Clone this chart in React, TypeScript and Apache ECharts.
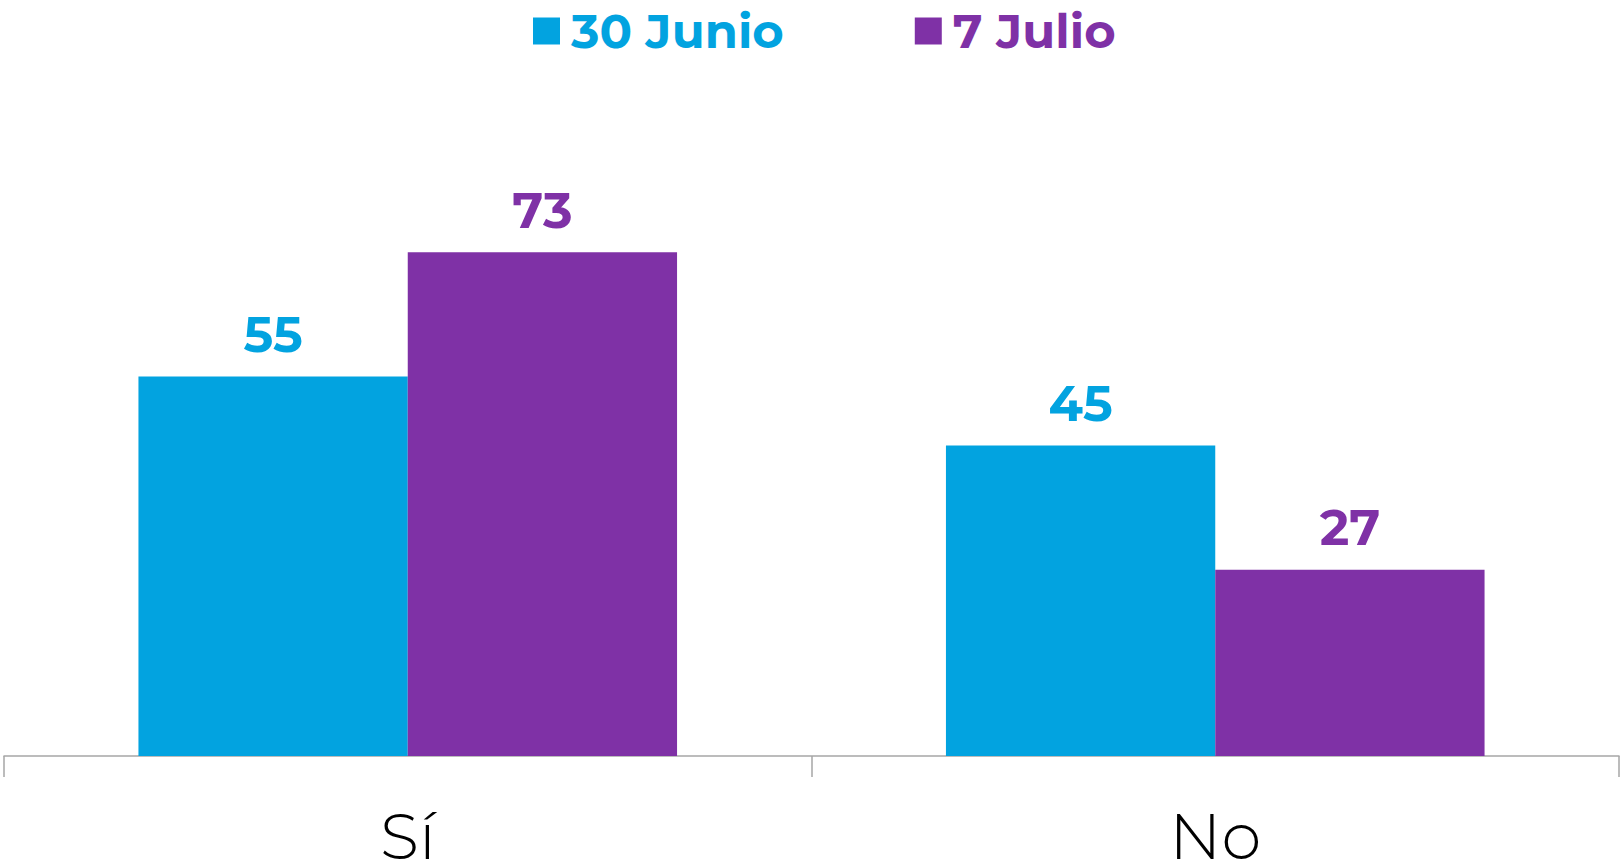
import React, { useEffect, useRef } from "react";
import * as echarts from "echarts";

const categories = ["Sí", "No"];
const seriesNames = ["30 Junio", "7 Julio"];
const junio30 = [55, 45];
const julio7 = [73, 27];
const colors = ["#02A3E0", "#7F31A6"];

const FONT = "Montserrat, Lato, 'Open Sans', sans-serif";

export default function App() {
  const ref = useRef<HTMLDivElement>(null);
  useEffect(() => {
    if (!ref.current) return;
    const chart = echarts.init(ref.current, undefined, { renderer: "svg" });
    const labelStyle = (c: string) => ({
      show: true,
      position: "top",
      distance: 17,
      color: c,
      fontSize: 50,
      fontWeight: "bold",
      fontFamily: FONT,
    });
    chart.setOption({
      animation: false,
      backgroundColor: "#ffffff",
      legend: {
        top: 2,
        left: 528,
        itemWidth: 27,
        itemHeight: 27,
        itemGap: 131,
        icon: "rect",
        data: seriesNames.map((n, i) => ({
          name: n,
          textStyle: { color: colors[i] },
        })),
        textStyle: {
          fontSize: 48,
          fontWeight: "bold",
          fontFamily: FONT,
          padding: [0, 0, 0, 6],
        },
      },
      grid: { left: 4, right: 2, top: 66, bottom: 108, containLabel: false },
      xAxis: {
        type: "category",
        data: categories,
        axisLine: { show: true, lineStyle: { color: "#A6A6A6", width: 1.5 } },
        axisTick: { show: true, length: 21, lineStyle: { color: "#A6A6A6", width: 1.5 } },
        axisLabel: {
          margin: 58,
          fontSize: 64,
          lineHeight: 44,
          color: "#000000",
          fontWeight: 300,
          fontFamily: FONT,
        },
      },
      yAxis: { type: "value", min: 0, max: 100, show: false, splitLine: { show: false } },
      series: [
        {
          name: seriesNames[0],
          type: "bar",
          data: junio30,
          barGap: "0%",
          barCategoryGap: "33.3%",
          itemStyle: { color: colors[0] },
          label: labelStyle(colors[0]),
        },
        {
          name: seriesNames[1],
          type: "bar",
          data: julio7,
          barGap: "0%",
          barCategoryGap: "33.3%",
          itemStyle: { color: colors[1] },
          label: labelStyle(colors[1]),
        },
      ],
    });
    return () => chart.dispose();
  }, []);
  return (
    <div
      ref={ref}
      style={{ position: "fixed", left: 0, top: 0, width: 1621, height: 868 }}
    />
  );
}
